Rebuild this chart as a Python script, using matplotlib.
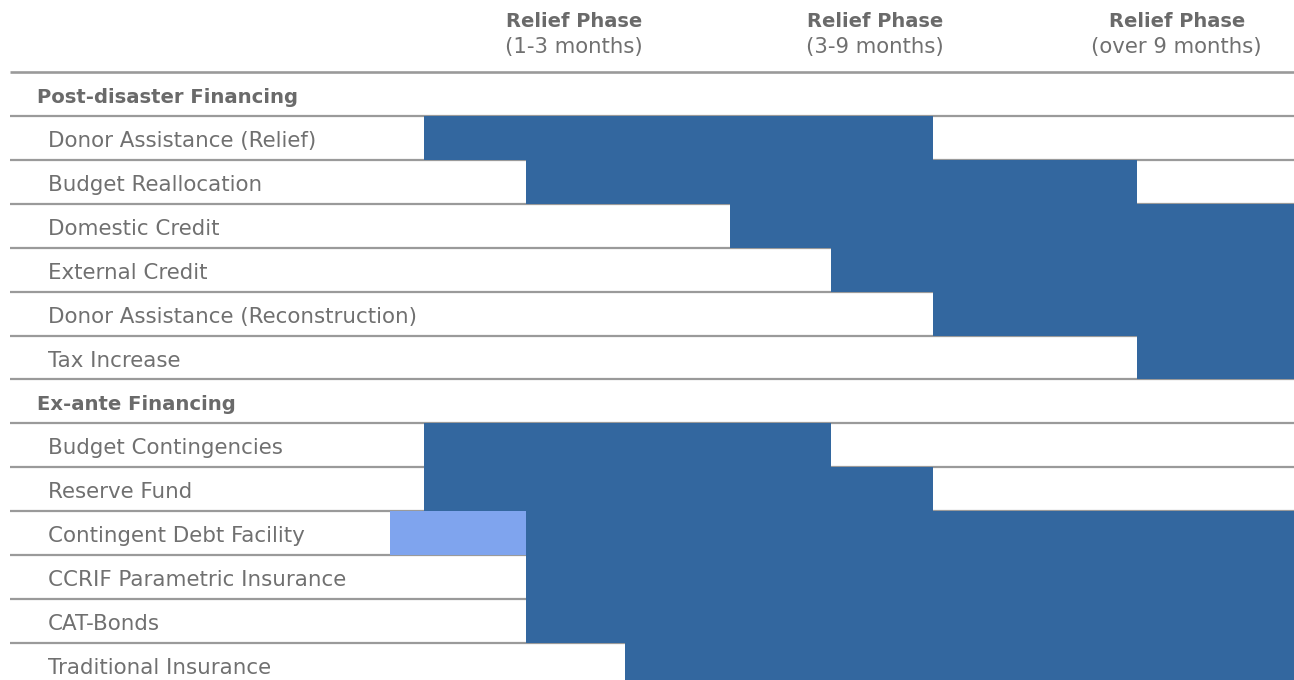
import matplotlib
matplotlib.use("Agg")
import matplotlib.pyplot as plt

# ---- data ----
sections = ["Post-disaster Financing", "Ex-ante Financing"]
post_items = ["Donor Assistance (Relief)", "Budget Reallocation", "Domestic Credit",
              "External Credit", "Donor Assistance (Reconstruction)", "Tax Increase"]
post_start = [0, 1, 3, 4, 5, 7]
post_end = [5, 7, 9, 9, 9, 9]
exante_items = ["Budget Contingencies", "Reserve Fund", "Contingent Debt Facility",
                "CCRIF Parametric Insurance", "CAT-Bonds", "Traditional Insurance"]
exante_start = [0, 0, 1, 1, 1, 1.97]
exante_end = [4, 5, 9, 9, 9, 9]
# light (pre-arranged) segment for contingent debt facility
light_item = "Contingent Debt Facility"
light_start = -0.33
light_end = 1
phase_titles = ["Relief Phase", "Relief Phase", "Relief Phase"]
phase_subtitles = ["(1-3 months)", "(3-9 months)", "(over 9 months)"]
phase_centers = [1.47, 4.43, 7.39]

DARK = "#33679f"
LIGHT = "#7fa4ee"
LINE = "#9a9a9a"
TEXT = "#707070"
HEAD = "#6a6a6a"

plt.rcParams['font.family'] = ['DejaVu Sans']

fig = plt.figure(figsize=(12.94, 6.80), dpi=100)
ax = fig.add_axes([0, 0, 1, 1])
ax.set_xlim(-4.163, 8.541)
ax.set_ylim(13.843, -1.639)
ax.axis('off')

rows = []
rows.append((sections[0], True, None, None))
for l, s, e in zip(post_items, post_start, post_end):
    rows.append((l, False, s, e))
rows.append((sections[1], True, None, None))
for l, s, e in zip(exante_items, exante_start, exante_end):
    rows.append((l, False, s, e))

line_x0 = -4.064
for i in range(len(rows)):
    ax.plot([line_x0, 10], [i, i], color=LINE, lw=1.6 if i else 1.9, zorder=1,
            solid_capstyle='butt')

for i, (label, is_sec, s, e) in enumerate(rows):
    yc = i + 0.57
    if is_sec:
        ax.text(-3.80, yc, label, fontsize=14.1, fontweight='bold', color=HEAD,
                va='center', ha='left')
    else:
        ax.text(-3.69, yc, label, fontsize=15.4, color=TEXT, va='center', ha='left')
        ax.barh(i, e - s, left=s, height=1, align='edge', color=DARK, zorder=2,
                linewidth=0)
        if label == light_item:
            ax.barh(i, light_end - light_start, left=light_start, height=1,
                    align='edge', color=LIGHT, zorder=2, linewidth=0)

for xc, t, st in zip(phase_centers, phase_titles, phase_subtitles):
    ax.text(xc, -1.16, t, fontsize=14, fontweight='bold', color=HEAD,
            ha='center', va='center')
    ax.text(xc, -0.56, st, fontsize=15.3, color=TEXT, ha='center', va='center')

fig.savefig("out.png", dpi=100)
